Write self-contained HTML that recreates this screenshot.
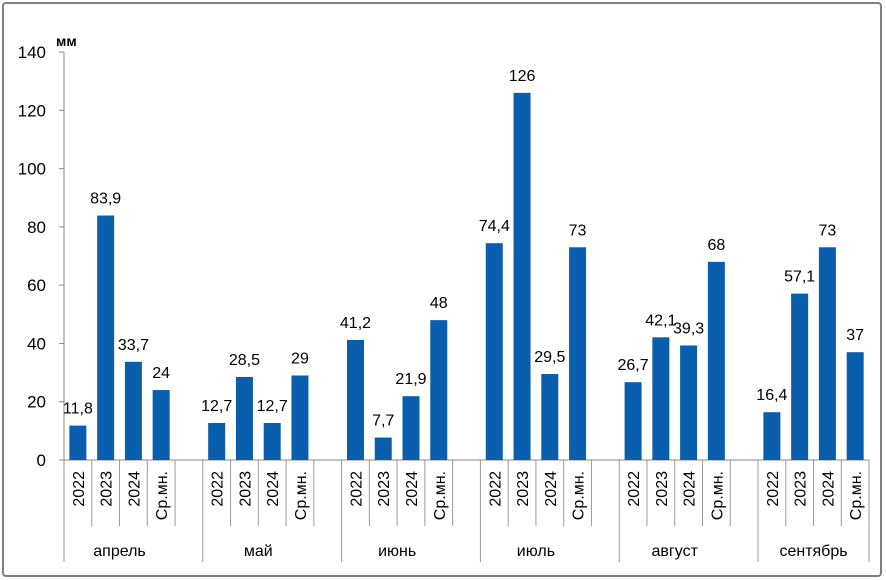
<!DOCTYPE html>
<html><head><meta charset="utf-8"><style>body{margin:0;background:#fff}svg{display:block}text{font-family:"Liberation Sans",sans-serif;fill:#000}</style></head><body>
<svg width="886" height="580" viewBox="0 0 886 580" xmlns="http://www.w3.org/2000/svg">
<rect x="3" y="3" width="878" height="573" fill="#fff" stroke="#7f7f7f" stroke-width="2" rx="3"/>
<g id="c"></g>
<script>
(function(){
var ns="http://www.w3.org/2000/svg",g=document.getElementById("c");
function el(t,a,txt){var e=document.createElementNS(ns,t);for(var k in a)e.setAttribute(k,a[k]);if(txt!=null)e.textContent=txt;g.appendChild(e);return e;}
var X0=64,SW=27.76,Y0=460,K=2.914;
// y axis
el("line",{x1:X0,y1:52,x2:X0,y2:Y0,stroke:"#888","stroke-width":1});
for(var v=0;v<=140;v+=20){var y=Y0-v*K;el("line",{x1:59,y1:y,x2:X0,y2:y,stroke:"#888"});el("text",{x:46,y:y+6,"font-size":"17","text-anchor":"end"},String(v));}
el("text",{x:56,y:46,"font-size":"14","font-weight":"bold"},"мм");
// x axis
el("line",{x1:X0,y1:Y0,x2:869,y2:Y0,stroke:"#888"});
var months=["апрель","май","июнь","июль","август","сентябрь"];
var vals=[[11.8,83.9,33.7,24],[12.7,28.5,12.7,29],[41.2,7.7,21.9,48],[74.4,126,29.5,73],[26.7,42.1,39.3,68],[16.4,57.1,73,37]];
var labs=[["11,8","83,9","33,7","24"],["12,7","28,5","12,7","29"],["41,2","7,7","21,9","48"],["74,4","126","29,5","73"],["26,7","42,1","39,3","68"],["16,4","57,1","73","37"]];
var cats=["2022","2023","2024","Ср.мн."];
for(var m=0;m<6;m++){
 var gs=X0+m*5*SW;
 el("line",{x1:gs,y1:Y0,x2:gs,y2:562,stroke:"#999"});
 var nslots=m<5?5:4;
 for(var s=1;s<=4;s++){var xx=gs+s*SW;el("line",{x1:xx,y1:Y0,x2:xx,y2:526,stroke:"#999"});}
 for(var i=0;i<4;i++){
  var cx=gs+(i+0.5)*SW,h=vals[m][i]*K;
  el("rect",{x:cx-8.5,y:Y0-h,width:17,height:h,fill:"#0a5eae"});
  el("text",{x:cx,y:Y0-h-12,"font-size":"16","text-anchor":"middle"},labs[m][i]);
  el("text",{x:0,y:0,"font-size":"16","text-anchor":"end",transform:"translate("+(cx+6)+",471) rotate(-90)"},cats[i]);
 }
 var mc=gs+2*SW;
 el("text",{x:mc,y:556,"font-size":"16","text-anchor":"middle"},months[m]);
}
el("line",{x1:869,y1:Y0,x2:869,y2:562,stroke:"#999"});
})();
</script>
</svg>
</body></html>
